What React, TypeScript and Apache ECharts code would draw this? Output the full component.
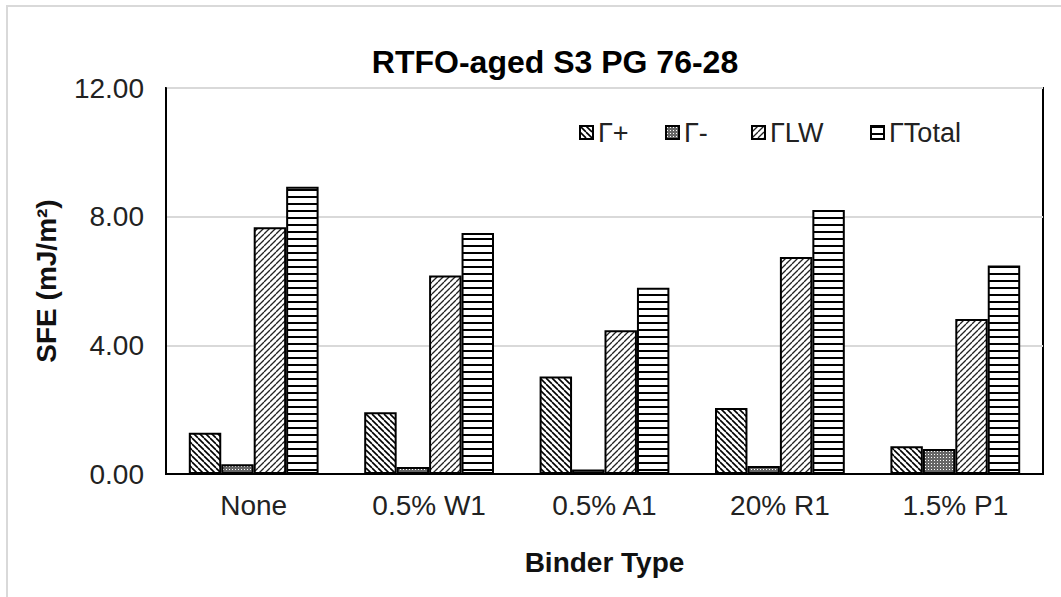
import React, { useEffect, useRef } from "react";
import * as echarts from "echarts";

const categories = ["None", "0.5% W1", "0.5% A1", "20% R1", "1.5% P1"];
const seriesNames = ["Γ+", "Γ-", "ΓLW", "ΓTotal"];
const gammaPlus = [1.28, 1.92, 3.03, 2.05, 0.86];
const gammaMinus = [0.3, 0.22, 0.14, 0.25, 0.78];
const gammaLW = [7.67, 6.17, 4.47, 6.75, 4.82];
const gammaTotal = [8.93, 7.49, 5.79, 8.21, 6.48];
const yTicks = [0, 4, 8, 12];
const legendLefts = [574, 660, 746, 865];

const FONT = "Liberation Sans, Arial";

function makePattern(kind: string) {
  const c = document.createElement("canvas");
  let w = 6, h = 6;
  if (kind === "horiz") { w = 4; h = 7; }
  if (kind === "dots") { w = 3; h = 3; }
  c.width = w; c.height = h;
  const ctx = c.getContext("2d")!;
  ctx.fillStyle = "#ffffff";
  ctx.fillRect(0, 0, w, h);
  ctx.strokeStyle = "#000";
  ctx.fillStyle = "#000";
  if (kind === "down") {
    ctx.lineWidth = 1.6;
    for (const o of [-w, 0, w]) {
      ctx.beginPath(); ctx.moveTo(o, 0); ctx.lineTo(o + w, h); ctx.stroke();
    }
  } else if (kind === "up") {
    ctx.lineWidth = 1.3;
    ctx.strokeStyle = "#222";
    for (const o of [-w, 0, w]) {
      ctx.beginPath(); ctx.moveTo(o, h); ctx.lineTo(o + w, 0); ctx.stroke();
    }
  } else if (kind === "dots") {
    ctx.fillStyle = "#666";
    ctx.fillRect(0, 0, 3, 3);
    ctx.fillStyle = "#fff";
    ctx.fillRect(1, 1, 1, 1);
  } else if (kind === "horiz") {
    ctx.fillRect(0, 0, w, 2);
  }
  return { image: c.toDataURL(), repeat: "repeat", imageWidth: w, imageHeight: h } as any;
}

export default function App() {
  const ref = useRef<HTMLDivElement>(null);
  useEffect(() => {
    const chart = echarts.init(ref.current!, null, { renderer: "svg" });
    const patterns = [makePattern("down"), makePattern("dots"), makePattern("up"), makePattern("horiz")];
    const datas = [gammaPlus, gammaMinus, gammaLW, gammaTotal];
    chart.setOption({
      animation: false,
      backgroundColor: "#ffffff",
      title: {
        text: "RTFO-aged S3 PG 76-28",
        left: 550,
        textAlign: "center",
        top: 41,
        textStyle: { fontFamily: FONT, fontWeight: "bold", fontSize: 32, color: "#000" },
      },
      legend: seriesNames.map((n, i) => ({
        data: [n],
        left: legendLefts[i],
        top: 114,
        itemWidth: 13,
        itemHeight: 13,
        itemGap: 6,
        icon: "rect",
        textStyle: { fontFamily: FONT, fontSize: 27, color: "#222" },
      })),
      grid: {
        left: 166,
        right: 18,
        top: 88,
        bottom: 123,
        show: true,
        borderColor: "#000",
        borderWidth: 2,
        backgroundColor: "transparent",
      },
      xAxis: {
        type: "category",
        data: categories,
        axisLine: { lineStyle: { color: "#000", width: 2 } },
        axisTick: { show: false },
        axisLabel: { fontFamily: FONT, fontSize: 28, color: "#222", margin: 17 },
        name: "Binder Type",
        nameLocation: "middle",
        nameGap: 74,
        nameTextStyle: { fontFamily: FONT, fontSize: 28, fontWeight: "bold", color: "#111" },
      },
      yAxis: {
        type: "value",
        min: yTicks[0],
        max: yTicks[yTicks.length - 1],
        interval: 4,
        axisLine: { show: true, lineStyle: { color: "#000", width: 2 } },
        axisTick: { show: false },
        splitLine: { lineStyle: { color: "#d9d9d9", width: 2 } },
        axisLabel: {
          fontFamily: FONT,
          fontSize: 28,
          color: "#222",
          margin: 22,
          formatter: (v: number) => v.toFixed(2),
        },
        name: "SFE (mJ/m²)",
        nameLocation: "middle",
        nameRotate: 90,
        nameGap: 106,
        nameTextStyle: { fontFamily: FONT, fontSize: 28, fontWeight: "bold", color: "#111" },
      },
      graphic: [
        {
          type: "rect",
          silent: true,
          shape: { x: 7, y: 6, width: 1200, height: 800 },
          style: { fill: "none", stroke: "#d9d9d9", lineWidth: 2 },
        },
      ],
      series: seriesNames.map((name, i) => ({
        name,
        type: "bar",
        data: datas[i],
        barGap: "0%",
        barCategoryGap: "26%",
        itemStyle: { color: patterns[i], borderColor: "#000", borderWidth: 2 },
      })),
    });
    return () => chart.dispose();
  }, []);
  return <div ref={ref} style={{ width: 1061, height: 597, position: "absolute", left: 0, top: 0 }} />;
}
